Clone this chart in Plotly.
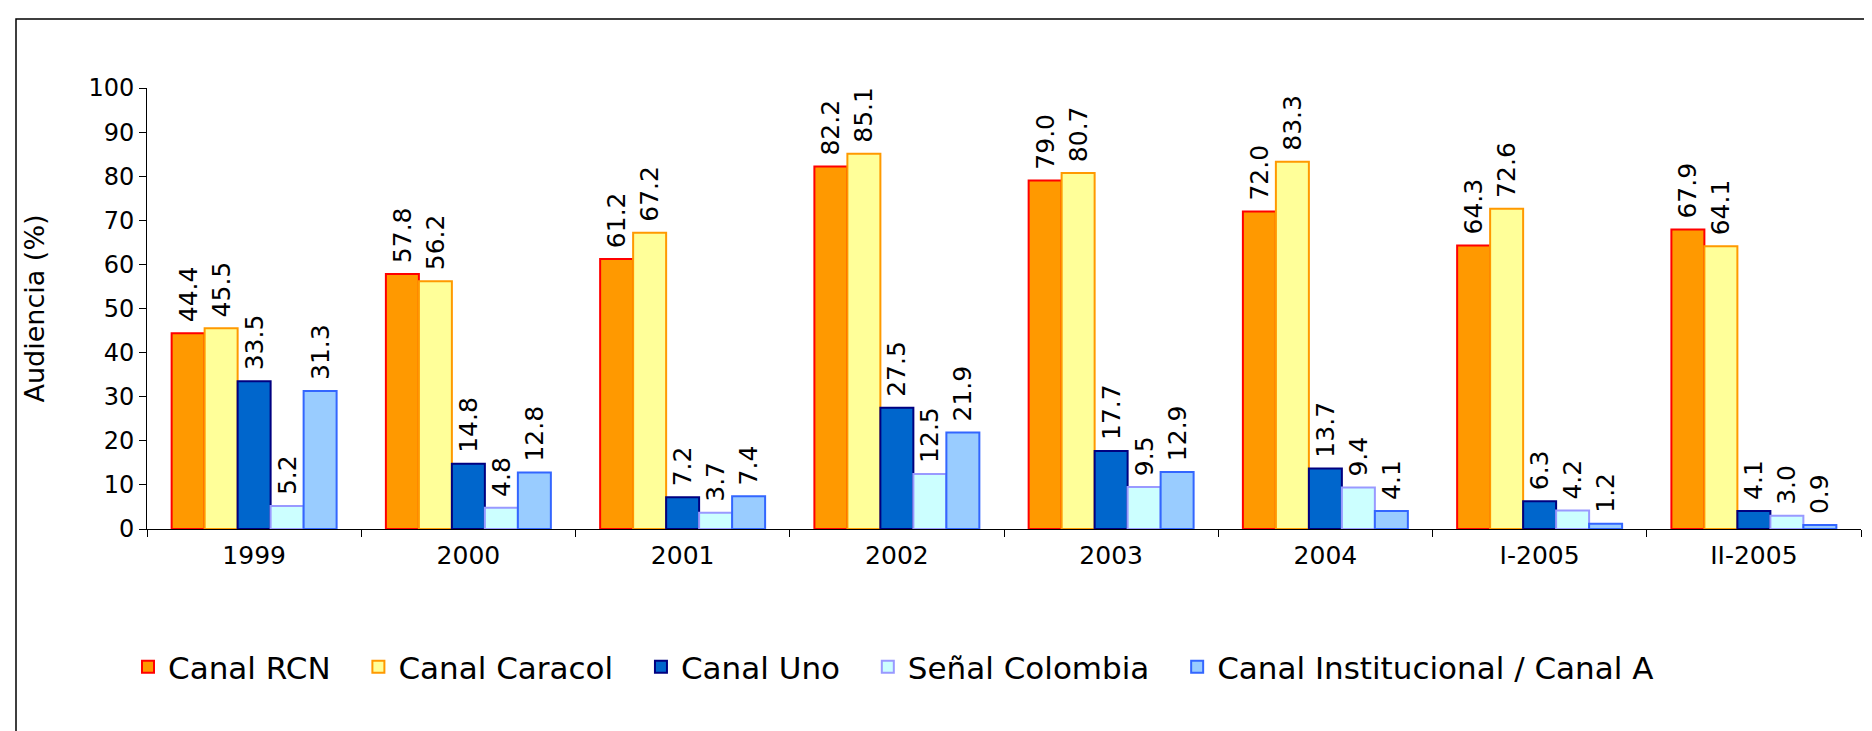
import plotly.graph_objects as go

categories = ["1999", "2000", "2001", "2002", "2003", "2004", "I-2005", "II-2005"]
series_names = ["Canal RCN", "Canal Caracol", "Canal Uno", "Señal Colombia", "Canal Institucional / Canal A"]
rcn = [44.4, 57.8, 61.2, 82.2, 79.0, 72.0, 64.3, 67.9]
caracol = [45.5, 56.2, 67.2, 85.1, 80.7, 83.3, 72.6, 64.1]
uno = [33.5, 14.8, 7.2, 27.5, 17.7, 13.7, 6.3, 4.1]
senal = [5.2, 4.8, 3.7, 12.5, 9.5, 9.4, 4.2, 3.0]
institucional = [31.3, 12.8, 7.4, 21.9, 12.9, 4.1, 1.2, 0.9]
y_ticks = [0, 10, 20, 30, 40, 50, 60, 70, 80, 90, 100]

fills = ["#FF9900", "#FFFF99", "#0066CC", "#CCFFFF", "#99CCFF"]
borders = ["#FF0000", "#FF9900", "#000080", "#9999FF", "#3366FF"]

FONT = "DejaVu Sans"
PAD = "\u00a0\u00a0\u200a"  # extra spacing after each legend entry
fig = go.Figure()
for name, vals, fc, bc in zip(series_names, [rcn, caracol, uno, senal, institucional], fills, borders):
    fig.add_trace(go.Bar(
        x=categories, y=vals, name=name + PAD,
        marker=dict(color=fc, line=dict(color=bc, width=2)),
        texttemplate="\u00a0%{y:.1f}", textposition="outside", textangle=-90,
        textfont=dict(family=FONT, size=25, color="black"),
        constraintext="none", cliponaxis=False,
    ))

W, H = 1872, 731
L, R, T, B = 139, 1853, 80, 521
pw, ph = R - L, B - T

def px_x(x):
    return (x - L) / pw

def px_y(y):
    return (B - y) / ph

fig.update_layout(
    width=W, height=H,
    margin=dict(l=L, r=W - R, t=T, b=H - B, pad=0),
    paper_bgcolor="white", plot_bgcolor="white",
    barmode="group", bargap=0.23, bargroupgap=0,
    font=dict(family=FONT, size=25, color="black"),
    showlegend=True,
    legend=dict(orientation="h", x=px_x(120), y=px_y(659), xanchor="left", yanchor="middle",
                font=dict(family=FONT, size=31, color="black"), traceorder="normal",
                itemwidth=30, bgcolor="rgba(0,0,0,0)"),
    xaxis=dict(showline=True, linecolor="black", linewidth=1, ticks="outside", ticklen=7,
               tickcolor="black", tickson="boundaries", showgrid=False,
               ticklabelstandoff=4,
               tickfont=dict(family=FONT, size=25, color="black")),
    yaxis=dict(range=[0, 100], tickvals=y_ticks, showline=True, linecolor="black", linewidth=1,
               ticks="outside", ticklen=7, tickcolor="black", showgrid=False, zeroline=False,
               tickfont=dict(family=FONT, size=24, color="black"),
               title=dict(text="Audiencia (%)", font=dict(family=FONT, size=27, color="black"), standoff=35)),
)

fig.add_shape(type="rect", xref="paper", yref="paper",
              x0=px_x(8), x1=px_x(1880), y0=px_y(740), y1=px_y(11),
              line=dict(color="black", width=1.5), fillcolor="rgba(0,0,0,0)", layer="above")

fig.write_html("out.html")
